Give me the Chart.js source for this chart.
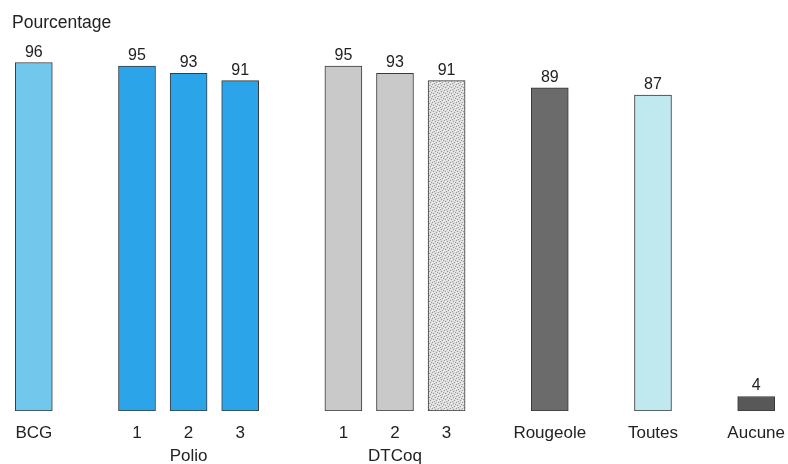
<!DOCTYPE html>
<html>
<head>
<meta charset="utf-8">
<script src="https://cdn.jsdelivr.net/npm/chart.js@4/dist/chart.umd.min.js"></script>
<style>
html,body{margin:0;padding:0;background:#fff;}
#wrap{position:relative;width:788px;height:464px;}
</style>
</head>
<body>
<div id="wrap"><canvas id="c" width="788" height="464"></canvas></div>
<script>
// Categories (empty strings are spacer slots between groups)
const categories = [
  ['BCG'], [''], ['1'], ['2', 'Polio'], ['3'], [''],
  ['1'], ['2', 'DTCoq'], ['3'], [''], ['Rougeole'], [''], ['Toutes'], [''], ['Aucune']
];
const values = [96, null, 95, 93, 91, null, 95, 93, 91, null, 89, null, 87, null, 4];
const yAxisTitle = 'Pourcentage';

function stipple() {
  const p = document.createElement('canvas');
  p.width = 6; p.height = 6;
  const g = p.getContext('2d');
  g.fillStyle = '#dcdcdc';
  g.fillRect(0, 0, 6, 6);
  g.fillStyle = '#9a9a9a';
  [[0,0],[3,1],[1,3],[4,4],[2,5],[5,2]].forEach(([x,y]) => g.fillRect(x, y, 1, 1));
  g.fillStyle = '#f4f4f4';
  [[1,1],[4,2],[2,4],[5,5],[0,4]].forEach(([x,y]) => g.fillRect(x, y, 1, 1));
  return g.createPattern(p, 'repeat');
}

const ctx = document.getElementById('c').getContext('2d');
const colors = [
  '#72c7ec', null, '#2ba4ea', '#2ba4ea', '#2ba4ea', null,
  '#c9c9c9', '#c9c9c9', stipple(), null, '#6b6b6b', null, '#c0e8ef', null, '#585858'
];

const FONT = '"Liberation Sans", Arial, Helvetica, sans-serif';

const valueLabels = {
  id: 'valueLabels',
  afterDatasetsDraw(chart) {
    const c = chart.ctx;
    const meta = chart.getDatasetMeta(0);
    c.save();
    c.font = '16px ' + FONT;
    c.fillStyle = '#222';
    c.textAlign = 'center';
    c.textBaseline = 'alphabetic';
    meta.data.forEach((bar, i) => {
      const v = values[i];
      if (v === null) return;
      c.fillText(String(v), bar.x, bar.y - 6);
    });
    c.font = '17.5px ' + FONT;
    c.textAlign = 'left';
    c.fillText(yAxisTitle, 12, 28);
    c.restore();
  }
};

new Chart(ctx, {
  type: 'bar',
  data: {
    labels: categories,
    datasets: [{
      data: values,
      backgroundColor: colors,
      borderColor: '#3a3a3a',
      borderWidth: 1,
      borderSkipped: false,
      barThickness: 37
    }]
  },
  options: {
    responsive: false,
    animation: false,
    layout: { padding: { left: 8, right: 0, top: 48, bottom: 0 } },
    plugins: { legend: { display: false }, tooltip: { enabled: false } },
    scales: {
      y: {
        display: false,
        min: 0,
        max: 100
      },
      x: {
        grid: { display: false },
        border: { display: false },
        afterFit(scale) { scale.height = 53; },
        ticks: {
          color: '#222',
          font: { size: 17, family: FONT, lineHeight: 1.35 },
          padding: 3,
          maxRotation: 0,
          autoSkip: false
        }
      }
    }
  },
  plugins: [valueLabels]
});
</script>
</body>
</html>
